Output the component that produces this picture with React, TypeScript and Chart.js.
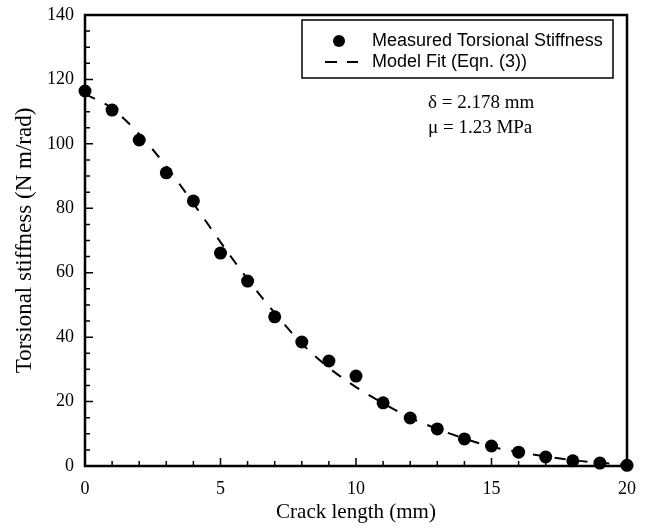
import React, { useEffect, useRef } from "react";
import { Chart, registerables } from "chart.js";

Chart.register(...registerables);

const crackLength = [0, 1, 2, 3, 4, 5, 6, 7, 8, 9, 10, 11, 12, 13, 14, 15, 16, 17, 18, 19, 20];
const measuredStiffness = [116.4, 110.5, 101.2, 91, 82.3, 66.1, 57.4, 46.3, 38.5, 32.6, 27.9, 19.6, 14.9, 11.5, 8.4, 6.2, 4.3, 2.8, 1.6, 0.9, 0.2];
const fitX = [0, 1, 2, 3, 4, 5, 6, 7, 8, 9, 10, 11, 12, 13, 14, 15, 16, 17, 18, 19, 20];
const fitStiffness = [115.5, 111, 103, 93, 81.5, 69.5, 58, 47.5, 38, 30.5, 24.5, 19.5, 15, 11.5, 8.5, 6, 4.3, 3, 1.8, 1.0, 0.4];
const xMajorTicks = [0, 5, 10, 15, 20];
const yMajorTicks = [0, 20, 40, 60, 80, 100, 120, 140];
const legendLabels = ["Measured Torsional Stiffness", "Model Fit (Eqn. (3))"];
const annotationLines = ["δ = 2.178 mm", "μ = 1.23 MPa"];

const SERIF = "'Liberation Serif', 'Times New Roman', serif";
const SANS = "'Liberation Sans', Arial, sans-serif";

const framePlugin = {
  id: "framePlugin",
  beforeDatasetsDraw(chart: any) {
    const { ctx, chartArea, scales } = chart;
    const { left, right, top, bottom } = chartArea;
    const xs = scales.x;
    const ys = scales.y;
    ctx.save();
    ctx.strokeStyle = "#000";
    ctx.lineWidth = 2.5;
    ctx.beginPath();
    ctx.rect(left, top, right - left, bottom - top);
    ctx.stroke();
    ctx.lineWidth = 1.5;
    ctx.beginPath();
    for (let v = 0; v <= 20; v += 1) {
      const px = xs.getPixelForValue(v);
      const len = xMajorTicks.includes(v) ? 8 : 5;
      ctx.moveTo(px, bottom);
      ctx.lineTo(px, bottom - len);
    }
    for (let v = 0; v <= 140; v += 5) {
      const py = ys.getPixelForValue(v);
      const len = yMajorTicks.includes(v) ? 8 : 5;
      ctx.moveTo(left, py);
      ctx.lineTo(left + len, py);
    }
    ctx.stroke();
    ctx.restore();
  },
  afterDraw(chart: any) {
    const { ctx } = chart;
    ctx.save();
    // legend box
    ctx.strokeStyle = "#000";
    ctx.lineWidth = 1.5;
    ctx.strokeRect(302, 20, 311, 58);
    ctx.fillStyle = "#000";
    ctx.beginPath();
    ctx.arc(339, 41, 6, 0, Math.PI * 2);
    ctx.fill();
    ctx.lineWidth = 2;
    ctx.beginPath();
    ctx.moveTo(325, 62);
    ctx.lineTo(337, 62);
    ctx.moveTo(347, 62);
    ctx.lineTo(358, 62);
    ctx.stroke();
    ctx.font = `18px ${SANS}`;
    ctx.textBaseline = "middle";
    ctx.textAlign = "left";
    ctx.fillText(legendLabels[0], 372, 41);
    ctx.fillText(legendLabels[1], 372, 62);
    // annotation
    ctx.font = `19px ${SERIF}`;
    ctx.fillText(annotationLines[0], 428, 103);
    ctx.fillText(annotationLines[1], 428, 128);
    ctx.restore();
  },
};

export default function App() {
  const canvasRef = useRef<HTMLCanvasElement | null>(null);

  useEffect(() => {
    document.body.style.margin = "0";
    const canvas = canvasRef.current;
    if (!canvas) return;
    const chart = new Chart(canvas, {
      type: "scatter",
      data: {
        datasets: [
          {
            label: legendLabels[1],
            data: fitX.map((x, i) => ({ x, y: fitStiffness[i] })),
            showLine: true,
            borderColor: "#000",
            borderWidth: 2,
            borderDash: [11, 11],
            pointRadius: 0,
            cubicInterpolationMode: "monotone",
            clip: false,
          } as any,
          {
            label: legendLabels[0],
            data: crackLength.map((x, i) => ({ x, y: measuredStiffness[i] })),
            backgroundColor: "#000",
            borderColor: "#000",
            pointRadius: 6.5,
            pointBorderWidth: 0,
            clip: false,
          } as any,
        ],
      },
      options: {
        animation: false,
        responsive: false,
        maintainAspectRatio: false,
        layout: { padding: { top: 15, right: 19, left: 0, bottom: 0 } },
        plugins: { legend: { display: false }, tooltip: { enabled: false } },
        scales: {
          x: {
            type: "linear",
            min: 0,
            max: 20,
            grid: { display: false, drawTicks: false, tickLength: 0 },
            border: { display: false },
            ticks: {
              stepSize: 5,
              color: "#000",
              padding: 12,
              font: { family: SERIF, size: 18 },
              maxRotation: 0,
            },
            title: {
              display: true,
              text: "Crack length (mm)",
              color: "#000",
              font: { family: SERIF, size: 21 },
              padding: { top: 0, bottom: 3 },
            },
            afterFit(scale: any) {
              scale.height = 62;
              scale.paddingLeft = 0;
              scale.paddingRight = 0;
            },
          },
          y: {
            type: "linear",
            min: 0,
            max: 140,
            grid: { display: false, drawTicks: false, tickLength: 0 },
            border: { display: false },
            ticks: {
              stepSize: 20,
              color: "#000",
              padding: 11,
              font: { family: SERIF, size: 18 },
            },
            title: {
              display: true,
              text: "Torsional stiffness (N m/rad)",
              color: "#000",
              font: { family: SERIF, size: 23 },
              padding: { top: 11, bottom: 0 },
            },
            afterFit(scale: any) {
              scale.width = 85;
              scale.paddingTop = 0;
              scale.paddingBottom = 0;
            },
          },
        },
      } as any,
      plugins: [framePlugin],
    });
    return () => chart.destroy();
  }, []);

  return (
    <div style={{ position: "relative", width: 646, height: 528, background: "#fff" }}>
      <canvas ref={canvasRef} width={646} height={528} style={{ display: "block" }} />
    </div>
  );
}
